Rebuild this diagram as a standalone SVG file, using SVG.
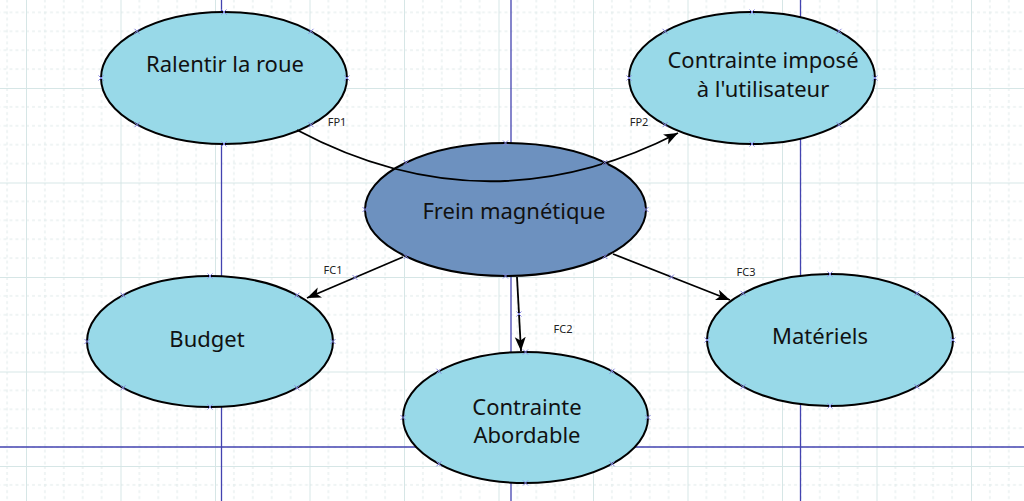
<svg xmlns="http://www.w3.org/2000/svg" xmlns:xlink="http://www.w3.org/1999/xlink" width="1024" height="501" viewBox="0 0 1024 501">
<style>
.node{fill:#98d9e8;stroke:#000;stroke-width:2}
.main{fill:#6d91bf;stroke:#000;stroke-width:2}
.lbl{font-family:"Noto Sans","DejaVu Sans",sans-serif;font-size:22px;fill:#111;text-anchor:middle}
.cl{font-family:"Noto Sans","DejaVu Sans",sans-serif;font-size:11px;fill:#222;text-anchor:middle}
.conn{fill:none;stroke:#000;stroke-width:1.8}
.guide{stroke:#4343b0;stroke-width:1.3}
.cp{fill:none;stroke:#8585e0;stroke-width:1}
</style>
<defs>
<pattern id="grid" patternUnits="userSpaceOnUse" x="26" y="88" width="94.5" height="94.5">
<g stroke="#dfeaea" stroke-width="1" stroke-dasharray="3,3" fill="none">
<path d="M18.9,0V94.5M37.8,0V94.5M56.7,0V94.5M75.6,0V94.5"/>
<path d="M0,18.9H94.5M0,37.8H94.5M0,56.7H94.5M0,75.6H94.5"/>
</g>
<path d="M0.5,0V94.5M0,0.5H94.5" stroke="#d6e6e6" stroke-width="1" fill="none"/>
</pattern>
<marker id="arr" markerUnits="userSpaceOnUse" markerWidth="16" markerHeight="12" refX="14" refY="5.5" orient="auto">
<path d="M0,0 L14,5.5 L0,11 L3.5,5.5 Z" fill="#000"/>
</marker>
<path id="x" class="cp" d="M-2.5,-2.5L2.5,2.5M-2.5,2.5L2.5,-2.5"/>
</defs>
<rect width="1024" height="501" fill="#fff"/>
<rect width="1024" height="501" fill="url(#grid)"/>
<g id="guides">
<line class="guide" x1="221.5" y1="0" x2="221.5" y2="501"/>
<line class="guide" x1="511" y1="0" x2="511" y2="501"/>
<line class="guide" x1="800.5" y1="0" x2="800.5" y2="501"/>
<line class="guide" x1="0" y1="447" x2="1024" y2="447"/>
</g>
<g id="n-ralentir">
<ellipse class="node" cx="224" cy="78" rx="123" ry="66"/>
<text class="lbl" x="225" y="72">Ralentir la roue</text>
</g>
<g id="n-contrainte-imposee">
<ellipse class="node" cx="752" cy="78" rx="123" ry="66"/>
<text class="lbl" x="763" y="68">Contrainte imposé</text>
<text class="lbl" x="763" y="97">à l'utilisateur</text>
</g>
<g id="n-frein">
<ellipse class="main" cx="505.5" cy="209.5" rx="140.5" ry="66.5"/>
<text class="lbl" x="514" y="219">Frein magnétique</text>
</g>
<g id="n-budget">
<ellipse class="node" cx="210" cy="341.5" rx="123" ry="65.5"/>
<text class="lbl" x="207" y="347">Budget</text>
</g>
<g id="n-abordable">
<ellipse class="node" cx="525.5" cy="417.5" rx="122.5" ry="65.5"/>
<text class="lbl" x="527" y="415">Contrainte</text>
<text class="lbl" x="527" y="443">Abordable</text>
</g>
<g id="n-materiels">
<ellipse class="node" cx="830" cy="340" rx="123" ry="66"/>
<text class="lbl" x="820" y="344">Matériels</text>
</g>
<g id="connectors">
<path class="conn" d="M297,130 Q487,231 678,133" marker-end="url(#arr)"/>
<line class="conn" x1="403" y1="257" x2="307" y2="298" marker-end="url(#arr)"/>
<line class="conn" x1="517" y1="277" x2="521" y2="351" marker-end="url(#arr)"/>
<line class="conn" x1="613" y1="254" x2="730" y2="300" marker-end="url(#arr)"/>
<text class="cl" x="337" y="126">FP1</text>
<text class="cl" x="639" y="126">FP2</text>
<text class="cl" x="333" y="274">FC1</text>
<text class="cl" x="563" y="333">FC2</text>
<text class="cl" x="746" y="276">FC3</text>
</g>
<g id="connection-points">
<use xlink:href="#x" x="224" y="12"/><use xlink:href="#x" x="224" y="144"/><use xlink:href="#x" x="101" y="78"/><use xlink:href="#x" x="347" y="78"/>
<use xlink:href="#x" x="137" y="31.3"/><use xlink:href="#x" x="311" y="31.3"/><use xlink:href="#x" x="137" y="124.7"/><use xlink:href="#x" x="311" y="124.7"/>
<use xlink:href="#x" x="752" y="12"/><use xlink:href="#x" x="752" y="144"/><use xlink:href="#x" x="629" y="78"/><use xlink:href="#x" x="875" y="78"/>
<use xlink:href="#x" x="665" y="31.3"/><use xlink:href="#x" x="839" y="31.3"/><use xlink:href="#x" x="665" y="124.7"/><use xlink:href="#x" x="839" y="124.7"/>
<use xlink:href="#x" x="505.5" y="143"/><use xlink:href="#x" x="505.5" y="276"/><use xlink:href="#x" x="365" y="209.5"/><use xlink:href="#x" x="646" y="209.5"/>
<use xlink:href="#x" x="406.2" y="162.5"/><use xlink:href="#x" x="604.8" y="162.5"/><use xlink:href="#x" x="406.2" y="256.5"/><use xlink:href="#x" x="604.8" y="256.5"/>
<use xlink:href="#x" x="210" y="276"/><use xlink:href="#x" x="210" y="407"/><use xlink:href="#x" x="87" y="341.5"/><use xlink:href="#x" x="333" y="341.5"/>
<use xlink:href="#x" x="123" y="295.2"/><use xlink:href="#x" x="297" y="295.2"/><use xlink:href="#x" x="123" y="387.8"/><use xlink:href="#x" x="297" y="387.8"/>
<use xlink:href="#x" x="525.5" y="352"/><use xlink:href="#x" x="525.5" y="483"/><use xlink:href="#x" x="403" y="417.5"/><use xlink:href="#x" x="648" y="417.5"/>
<use xlink:href="#x" x="438.9" y="371.2"/><use xlink:href="#x" x="612.1" y="371.2"/><use xlink:href="#x" x="438.9" y="463.8"/><use xlink:href="#x" x="612.1" y="463.8"/>
<use xlink:href="#x" x="830" y="274"/><use xlink:href="#x" x="830" y="406"/><use xlink:href="#x" x="707" y="340"/><use xlink:href="#x" x="953" y="340"/>
<use xlink:href="#x" x="743" y="293.3"/><use xlink:href="#x" x="917" y="293.3"/><use xlink:href="#x" x="743" y="386.7"/><use xlink:href="#x" x="917" y="386.7"/>
<use xlink:href="#x" x="355" y="277.5"/><use xlink:href="#x" x="519" y="314"/><use xlink:href="#x" x="671.5" y="277"/>
</g>
</svg>
